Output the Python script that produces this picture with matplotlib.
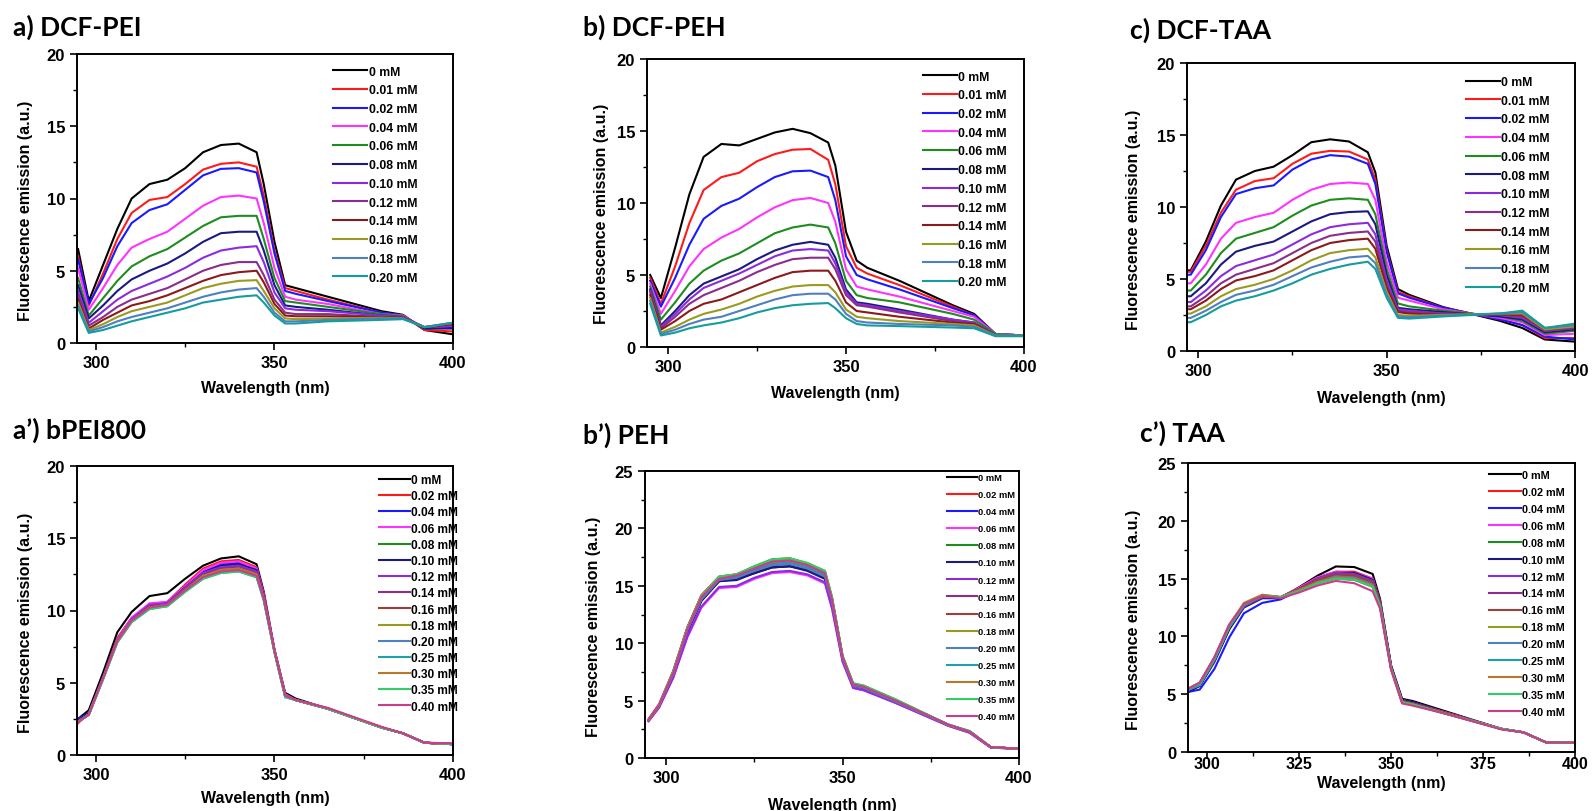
import matplotlib.pyplot as plt
from matplotlib.ticker import MultipleLocator

plt.rcParams['font.family'] = ['Liberation Sans', 'DejaVu Sans']
plt.rcParams['font.weight'] = 'bold'
plt.rcParams['axes.labelweight'] = 'bold'

# wavelength grid (nm) shared by every curve
wl = [295, 298, 302, 306, 310, 315, 320, 325, 330, 335, 340,
      345, 347, 350, 353, 356, 365, 380, 386, 392, 400]

conc_dcf = ['0 mM', '0.01 mM', '0.02 mM', '0.04 mM', '0.06 mM', '0.08 mM',
            '0.10 mM', '0.12 mM', '0.14 mM', '0.16 mM', '0.18 mM', '0.20 mM']
conc_free = ['0 mM', '0.02 mM', '0.04 mM', '0.06 mM', '0.08 mM', '0.10 mM',
             '0.12 mM', '0.14 mM', '0.16 mM', '0.18 mM', '0.20 mM', '0.25 mM',
             '0.30 mM', '0.35 mM', '0.40 mM']

colors_dcf = ['#000000', '#ff1a1a', '#1a1aff', '#ff33ff', '#1e8c1e', '#1a1a80',
              '#8a2be2', '#8b2d8b', '#8b1a1a', '#9a9a20', '#4f7fbf', '#169c9c']
colors_free = ['#000000', '#ff1a1a', '#1a1aff', '#ff33ff', '#1e8c1e', '#1a1a80',
               '#8a2be2', '#8b2d8b', '#a03c3c', '#9a9a20', '#4f80c0', '#20a0a8',
               '#b8782a', '#33cc66', '#cc3c8c']

# a) DCF-PEI
dcf_pei = [
    [6.5, 2.9, 5.4, 7.9, 10.0, 11.0, 11.3, 12.1, 13.2, 13.7, 13.8, 13.2, 11.0, 7.0, 4.0, 3.8, 3.2, 2.2, 1.95, 0.9, 0.6],
    [6.0, 2.6, 4.8, 7.2, 9.0, 9.9, 10.1, 11.0, 12.0, 12.4, 12.5, 12.2, 10.2, 6.4, 3.8, 3.6, 3.0, 2.1, 1.9, 0.9, 0.8],
    [5.8, 2.7, 4.5, 6.7, 8.3, 9.2, 9.6, 10.6, 11.6, 12.05, 12.1, 11.8, 9.8, 6.2, 3.6, 3.4, 2.9, 2.1, 1.9, 1.0, 1.1],
    [5.2, 2.3, 3.8, 5.4, 6.6, 7.2, 7.7, 8.6, 9.5, 10.1, 10.2, 10.0, 8.3, 5.2, 3.2, 3.0, 2.7, 2.0, 1.9, 1.0, 1.2],
    [4.5, 1.9, 3.1, 4.3, 5.3, 6.0, 6.5, 7.3, 8.1, 8.7, 8.8, 8.8, 7.2, 4.5, 2.9, 2.8, 2.5, 2.0, 1.85, 1.0, 1.3],
    [4.0, 1.7, 2.6, 3.6, 4.4, 5.0, 5.5, 6.2, 7.0, 7.6, 7.7, 7.7, 6.4, 4.0, 2.6, 2.5, 2.3, 1.9, 1.8, 1.0, 1.0],
    [3.6, 1.4, 2.2, 3.0, 3.6, 4.1, 4.6, 5.2, 5.9, 6.4, 6.6, 6.7, 5.6, 3.5, 2.4, 2.3, 2.2, 1.9, 1.8, 1.1, 1.2],
    [3.3, 1.2, 1.8, 2.5, 3.0, 3.4, 3.8, 4.4, 5.0, 5.4, 5.6, 5.6, 4.7, 3.0, 2.1, 2.0, 2.0, 1.8, 1.75, 1.1, 1.3],
    [3.0, 1.0, 1.6, 2.1, 2.6, 2.9, 3.3, 3.8, 4.3, 4.7, 4.9, 5.0, 4.2, 2.7, 1.9, 1.85, 1.85, 1.8, 1.75, 1.1, 1.3],
    [2.8, 0.9, 1.3, 1.8, 2.2, 2.5, 2.8, 3.3, 3.8, 4.1, 4.3, 4.35, 3.6, 2.4, 1.7, 1.65, 1.7, 1.75, 1.7, 1.1, 1.4],
    [2.6, 0.8, 1.1, 1.5, 1.8, 2.1, 2.4, 2.8, 3.2, 3.5, 3.7, 3.8, 3.2, 2.1, 1.5, 1.5, 1.6, 1.7, 1.7, 1.1, 1.4],
    [2.4, 0.7, 0.9, 1.2, 1.5, 1.8, 2.1, 2.4, 2.8, 3.0, 3.2, 3.3, 2.8, 1.9, 1.35, 1.35, 1.5, 1.6, 1.65, 1.1, 1.4],
]

# b) DCF-PEH
dcf_peh = [
    [5.0, 3.4, 6.9, 10.6, 13.2, 14.1, 14.0, 14.45, 14.9, 15.15, 14.85, 14.2, 12.6, 8.0, 6.0, 5.5, 4.6, 2.9, 2.3, 0.9, 0.8],
    [4.8, 3.0, 5.6, 8.6, 10.9, 11.8, 12.1, 12.9, 13.4, 13.7, 13.75, 13.0, 11.3, 7.0, 5.5, 5.1, 4.3, 2.8, 2.2, 0.9, 0.8],
    [4.6, 2.8, 4.8, 7.1, 8.9, 9.8, 10.3, 11.1, 11.8, 12.2, 12.25, 11.8, 10.2, 6.3, 5.0, 4.7, 4.0, 2.7, 2.2, 0.9, 0.8],
    [4.4, 2.3, 3.9, 5.6, 6.8, 7.6, 8.2, 9.0, 9.7, 10.2, 10.35, 10.0, 8.7, 5.4, 4.2, 4.0, 3.5, 2.5, 2.1, 0.9, 0.8],
    [4.2, 1.9, 3.1, 4.4, 5.3, 6.0, 6.5, 7.2, 7.9, 8.3, 8.5, 8.3, 7.2, 4.6, 3.6, 3.4, 3.1, 2.3, 1.9, 0.9, 0.8],
    [4.0, 1.5, 2.5, 3.6, 4.4, 4.9, 5.4, 6.1, 6.7, 7.1, 7.3, 7.1, 6.2, 4.0, 3.1, 3.0, 2.6, 1.9, 1.7, 0.8, 0.8],
    [3.9, 1.4, 2.3, 3.3, 4.1, 4.6, 5.1, 5.7, 6.3, 6.7, 6.8, 6.7, 5.8, 3.8, 3.0, 2.9, 2.5, 1.9, 1.7, 0.8, 0.8],
    [3.8, 1.3, 2.1, 3.0, 3.6, 4.1, 4.6, 5.2, 5.7, 6.1, 6.2, 6.2, 5.4, 3.6, 2.9, 2.8, 2.4, 1.8, 1.6, 0.8, 0.8],
    [3.6, 1.2, 1.8, 2.5, 3.0, 3.3, 3.8, 4.3, 4.8, 5.2, 5.3, 5.3, 4.6, 3.1, 2.5, 2.4, 2.1, 1.7, 1.6, 0.8, 0.8],
    [3.4, 1.0, 1.4, 1.9, 2.3, 2.6, 3.0, 3.5, 3.9, 4.2, 4.3, 4.3, 3.8, 2.6, 2.1, 2.0, 1.8, 1.6, 1.5, 0.8, 0.8],
    [3.2, 0.9, 1.2, 1.6, 1.9, 2.1, 2.5, 2.9, 3.3, 3.6, 3.7, 3.7, 3.3, 2.3, 1.8, 1.7, 1.6, 1.5, 1.4, 0.8, 0.8],
    [3.0, 0.8, 1.0, 1.3, 1.5, 1.7, 2.0, 2.4, 2.7, 2.9, 3.0, 3.05, 2.7, 2.0, 1.6, 1.5, 1.45, 1.35, 1.3, 0.75, 0.75],
]

# c) DCF-TAA
dcf_taa = [
    [5.6, 5.6, 7.6, 10.1, 11.9, 12.5, 12.8, 13.6, 14.5, 14.7, 14.55, 13.8, 12.4, 7.3, 4.3, 3.9, 3.05, 2.1, 1.6, 0.8, 0.65],
    [5.5, 5.5, 7.3, 9.6, 11.2, 11.8, 12.0, 13.0, 13.7, 13.9, 13.85, 13.3, 11.9, 7.0, 4.1, 3.8, 3.0, 2.2, 1.8, 0.9, 0.9],
    [5.3, 5.3, 7.0, 9.3, 10.9, 11.3, 11.5, 12.6, 13.3, 13.6, 13.5, 13.0, 11.6, 6.9, 4.0, 3.7, 3.0, 2.2, 1.8, 1.0, 0.8],
    [4.7, 4.7, 6.0, 7.8, 8.9, 9.3, 9.6, 10.5, 11.2, 11.6, 11.7, 11.6, 10.5, 6.2, 3.7, 3.5, 2.9, 2.3, 2.0, 1.1, 1.2],
    [4.2, 4.2, 5.3, 6.8, 7.8, 8.2, 8.6, 9.4, 10.1, 10.5, 10.6, 10.5, 9.5, 5.7, 3.3, 3.1, 2.8, 2.4, 2.1, 1.2, 1.4],
    [3.8, 3.8, 4.7, 6.0, 6.9, 7.3, 7.6, 8.3, 9.0, 9.5, 9.65, 9.7, 8.8, 5.3, 3.0, 2.9, 2.7, 2.4, 2.2, 1.3, 1.5],
    [3.4, 3.4, 4.2, 5.2, 5.9, 6.3, 6.7, 7.4, 8.1, 8.6, 8.8, 8.9, 8.1, 4.9, 2.9, 2.8, 2.6, 2.5, 2.3, 1.4, 1.6],
    [3.1, 3.1, 3.8, 4.7, 5.3, 5.7, 6.1, 6.8, 7.5, 8.0, 8.2, 8.3, 7.6, 4.6, 2.8, 2.7, 2.6, 2.5, 2.4, 1.4, 1.6],
    [2.9, 2.9, 3.5, 4.3, 4.9, 5.2, 5.6, 6.3, 7.0, 7.5, 7.7, 7.8, 7.1, 4.4, 2.7, 2.6, 2.5, 2.55, 2.5, 1.5, 1.7],
    [2.6, 2.6, 3.1, 3.8, 4.3, 4.6, 5.0, 5.6, 6.3, 6.8, 7.0, 7.1, 6.5, 4.1, 2.5, 2.45, 2.5, 2.6, 2.6, 1.5, 1.7],
    [2.3, 2.3, 2.8, 3.4, 3.9, 4.2, 4.6, 5.2, 5.8, 6.2, 6.5, 6.6, 6.1, 3.9, 2.4, 2.35, 2.45, 2.6, 2.7, 1.6, 1.8],
    [2.0, 2.0, 2.5, 3.1, 3.5, 3.8, 4.2, 4.7, 5.3, 5.7, 6.0, 6.2, 5.7, 3.7, 2.3, 2.25, 2.4, 2.6, 2.8, 1.6, 1.9],
]

# a') bPEI800
bpei = [
    [2.5, 3.1, 5.7, 8.5, 9.9, 11.0, 11.2, 12.2, 13.1, 13.6, 13.75, 13.2, 11.3, 7.3, 4.3, 3.9, 3.2, 1.9, 1.5, 0.85, 0.75],
    [2.2, 2.9, 5.4, 8.1, 9.5, 10.4, 10.6, 11.8, 12.9, 13.4, 13.5, 13.0, 11.2, 7.2, 4.2, 3.8, 3.2, 1.9, 1.5, 0.85, 0.75],
    [2.5, 2.9, 5.4, 8.0, 9.4, 10.3, 10.5, 11.7, 12.7, 13.2, 13.3, 12.9, 11.1, 7.2, 4.2, 3.8, 3.2, 1.9, 1.5, 0.85, 0.75],
    [2.3, 2.8, 5.3, 8.0, 9.5, 10.5, 10.6, 11.7, 12.8, 13.3, 13.4, 12.9, 11.1, 7.3, 4.2, 3.8, 3.25, 1.9, 1.5, 0.85, 0.8],
    [2.3, 2.8, 5.3, 7.9, 9.3, 10.2, 10.4, 11.5, 12.5, 12.9, 13.0, 12.6, 10.9, 7.2, 4.1, 3.8, 3.2, 1.9, 1.5, 0.85, 0.75],
    [2.4, 2.9, 5.3, 7.9, 9.3, 10.3, 10.5, 11.6, 12.6, 13.1, 13.2, 12.8, 11.0, 7.2, 4.1, 3.8, 3.2, 1.9, 1.5, 0.85, 0.75],
    [2.3, 2.8, 5.3, 7.9, 9.4, 10.4, 10.5, 11.6, 12.6, 13.0, 13.1, 12.7, 11.0, 7.2, 4.1, 3.8, 3.2, 1.9, 1.5, 0.85, 0.75],
    [2.3, 2.8, 5.3, 7.9, 9.3, 10.3, 10.4, 11.5, 12.5, 12.9, 13.0, 12.6, 10.9, 7.2, 4.1, 3.8, 3.2, 1.9, 1.5, 0.85, 0.75],
    [2.3, 2.8, 5.3, 7.9, 9.3, 10.3, 10.4, 11.5, 12.4, 12.8, 12.9, 12.5, 10.8, 7.2, 4.1, 3.8, 3.2, 1.9, 1.5, 0.85, 0.75],
    [2.3, 2.8, 5.3, 7.9, 9.3, 10.2, 10.4, 11.4, 12.4, 12.8, 12.9, 12.5, 10.8, 7.2, 4.1, 3.8, 3.2, 1.9, 1.5, 0.85, 0.75],
    [2.3, 2.8, 5.3, 7.9, 9.3, 10.2, 10.4, 11.4, 12.3, 12.7, 12.8, 12.4, 10.8, 7.2, 4.1, 3.8, 3.2, 1.9, 1.5, 0.85, 0.75],
    [2.3, 2.8, 5.3, 7.8, 9.2, 10.1, 10.3, 11.3, 12.2, 12.6, 12.7, 12.3, 10.7, 7.1, 4.0, 3.8, 3.2, 1.9, 1.5, 0.85, 0.75],
    [2.3, 2.8, 5.3, 7.8, 9.2, 10.2, 10.3, 11.4, 12.3, 12.8, 12.9, 12.5, 10.8, 7.2, 4.1, 3.8, 3.2, 1.9, 1.5, 0.85, 0.75],
    [2.3, 2.8, 5.2, 7.8, 9.2, 10.1, 10.3, 11.3, 12.2, 12.6, 12.7, 12.3, 10.7, 7.1, 4.0, 3.8, 3.2, 1.9, 1.5, 0.85, 0.75],
    [2.3, 2.8, 5.3, 7.9, 9.3, 10.2, 10.4, 11.4, 12.3, 12.7, 12.8, 12.4, 10.8, 7.2, 4.1, 3.8, 3.25, 1.95, 1.5, 0.85, 0.8],
]

# b') PEH
peh = [
    [3.3, 4.6, 7.3, 11.0, 13.7, 15.4, 15.6, 16.1, 16.6, 16.7, 16.4, 15.7, 13.5, 8.6, 6.3, 6.1, 4.9, 2.85, 2.25, 0.95, 0.8],
    [3.4, 4.7, 7.6, 11.4, 14.2, 15.8, 16.0, 16.6, 17.1, 17.2, 16.8, 16.1, 13.9, 8.8, 6.4, 6.2, 5.0, 2.9, 2.3, 0.95, 0.8],
    [3.3, 4.6, 7.3, 11.1, 13.8, 15.5, 15.7, 16.3, 16.8, 16.9, 16.5, 15.8, 13.6, 8.7, 6.3, 6.1, 4.9, 2.85, 2.25, 0.95, 0.8],
    [3.2, 4.4, 7.0, 10.5, 13.1, 14.8, 14.9, 15.6, 16.1, 16.2, 15.9, 15.2, 13.0, 8.4, 6.1, 5.9, 4.8, 2.8, 2.2, 0.9, 0.8],
    [3.3, 4.6, 7.5, 11.3, 14.1, 15.7, 16.0, 16.7, 17.3, 17.4, 16.95, 16.3, 14.0, 8.9, 6.5, 6.3, 5.1, 2.9, 2.35, 0.95, 0.8],
    [3.3, 4.6, 7.3, 11.0, 13.7, 15.4, 15.5, 16.1, 16.6, 16.7, 16.3, 15.6, 13.5, 8.6, 6.3, 6.1, 4.9, 2.85, 2.25, 0.95, 0.8],
    [3.2, 4.4, 7.0, 10.6, 13.2, 14.9, 15.0, 15.7, 16.2, 16.3, 16.0, 15.3, 13.1, 8.4, 6.1, 5.9, 4.8, 2.8, 2.2, 0.9, 0.8],
    [3.3, 4.6, 7.5, 11.3, 14.1, 15.7, 15.9, 16.5, 17.0, 17.2, 16.8, 16.1, 13.8, 8.8, 6.4, 6.2, 5.0, 2.9, 2.3, 0.95, 0.8],
    [3.3, 4.6, 7.5, 11.3, 14.1, 15.7, 15.9, 16.5, 17.0, 17.1, 16.7, 16.0, 13.8, 8.8, 6.4, 6.2, 5.0, 2.9, 2.3, 0.95, 0.8],
    [3.3, 4.6, 7.5, 11.3, 14.1, 15.8, 16.0, 16.6, 17.2, 17.3, 16.9, 16.2, 13.9, 8.8, 6.4, 6.2, 5.0, 2.9, 2.3, 0.95, 0.8],
    [3.3, 4.6, 7.3, 11.1, 13.8, 15.5, 15.7, 16.3, 16.8, 16.9, 16.5, 15.8, 13.6, 8.7, 6.3, 6.1, 4.9, 2.85, 2.25, 0.95, 0.8],
    [3.3, 4.6, 7.5, 11.3, 14.0, 15.6, 15.9, 16.5, 17.0, 17.1, 16.7, 16.0, 13.8, 8.7, 6.4, 6.2, 5.0, 2.9, 2.3, 0.95, 0.8],
    [3.3, 4.6, 7.5, 11.3, 14.1, 15.7, 16.0, 16.6, 17.1, 17.2, 16.8, 16.1, 13.9, 8.8, 6.4, 6.2, 5.0, 2.9, 2.3, 0.95, 0.8],
    [3.3, 4.6, 7.5, 11.3, 14.1, 15.8, 16.0, 16.7, 17.3, 17.4, 17.0, 16.3, 14.0, 8.9, 6.5, 6.3, 5.1, 2.9, 2.35, 0.95, 0.8],
    [3.3, 4.6, 7.4, 11.2, 14.0, 15.6, 15.9, 16.5, 17.1, 17.2, 16.8, 16.1, 13.8, 8.8, 6.4, 6.2, 5.0, 2.9, 2.3, 0.95, 0.8],
]

# c') TAA
taa = [
    [5.2, 5.75, 7.9, 10.65, 12.6, 13.55, 13.35, 14.25, 15.25, 16.05, 16.0, 15.4, 13.25, 7.5, 4.6, 4.4, 3.5, 2.0, 1.7, 0.85, 0.8],
    [5.5, 6.0, 8.2, 11.0, 12.8, 13.5, 13.4, 14.2, 15.1, 15.6, 15.6, 15.0, 13.1, 7.4, 4.5, 4.3, 3.4, 2.0, 1.7, 0.85, 0.8],
    [5.2, 5.4, 7.2, 9.9, 12.0, 12.9, 13.2, 14.0, 14.9, 15.4, 15.4, 14.9, 13.0, 7.4, 4.5, 4.3, 3.4, 2.0, 1.7, 0.85, 0.8],
    [5.4, 5.9, 8.1, 10.9, 12.7, 13.5, 13.4, 14.2, 15.1, 15.6, 15.5, 15.0, 13.0, 7.3, 4.4, 4.2, 3.4, 2.0, 1.7, 0.85, 0.8],
    [5.4, 5.8, 8.0, 10.8, 12.6, 13.4, 13.4, 14.1, 14.9, 15.4, 15.3, 14.7, 12.9, 7.3, 4.4, 4.2, 3.4, 2.0, 1.7, 0.85, 0.8],
    [5.3, 5.7, 7.8, 10.6, 12.5, 13.3, 13.3, 14.1, 15.0, 15.5, 15.5, 14.9, 13.0, 7.4, 4.5, 4.3, 3.4, 2.0, 1.7, 0.85, 0.8],
    [5.4, 5.8, 8.0, 10.8, 12.6, 13.4, 13.4, 14.1, 15.0, 15.5, 15.4, 14.8, 12.9, 7.3, 4.4, 4.2, 3.4, 2.0, 1.7, 0.85, 0.8],
    [5.4, 5.8, 8.0, 10.8, 12.6, 13.4, 13.4, 14.0, 14.8, 15.3, 15.2, 14.6, 12.8, 7.3, 4.4, 4.2, 3.4, 2.0, 1.7, 0.85, 0.8],
    [5.4, 5.8, 8.0, 10.8, 12.7, 13.5, 13.4, 14.1, 14.9, 15.4, 15.3, 14.7, 12.9, 7.3, 4.4, 4.2, 3.4, 2.0, 1.7, 0.85, 0.8],
    [5.5, 5.9, 8.1, 10.9, 12.8, 13.6, 13.4, 14.0, 14.6, 15.0, 14.9, 14.3, 12.6, 7.2, 4.3, 4.1, 3.3, 2.0, 1.7, 0.85, 0.8],
    [5.4, 5.8, 8.0, 10.8, 12.7, 13.5, 13.4, 14.0, 14.7, 15.2, 15.1, 14.5, 12.7, 7.2, 4.3, 4.1, 3.3, 2.0, 1.7, 0.85, 0.8],
    [5.4, 5.8, 8.0, 10.8, 12.7, 13.5, 13.4, 13.9, 14.6, 15.0, 14.9, 14.3, 12.6, 7.2, 4.3, 4.1, 3.3, 2.0, 1.7, 0.85, 0.8],
    [5.5, 6.0, 8.2, 11.0, 12.9, 13.6, 13.4, 14.0, 14.7, 15.1, 15.0, 14.4, 12.6, 7.2, 4.3, 4.1, 3.3, 2.0, 1.7, 0.85, 0.8],
    [5.5, 5.9, 8.1, 10.9, 12.8, 13.5, 13.4, 13.9, 14.6, 15.0, 14.9, 14.3, 12.6, 7.2, 4.3, 4.1, 3.3, 2.0, 1.7, 0.85, 0.8],
    [5.5, 6.0, 8.2, 11.0, 12.8, 13.5, 13.3, 13.8, 14.4, 14.8, 14.6, 13.9, 12.4, 7.1, 4.2, 4.0, 3.3, 1.95, 1.7, 0.85, 0.8],
]

W, H = 1592, 812
fig = plt.figure(figsize=(W / 100, H / 100), dpi=100)


def px_axes(left, top, right, bottom):
    return fig.add_axes([left / W, 1 - bottom / H, (right - left) / W, (bottom - top) / H])


def draw(ax, data, labels, colors, xlim, ymax, xmajor, leg):
    for ys, lab, col in zip(data, labels, colors):
        ax.plot(wl, ys, color=col, lw=1.5, label=lab, solid_joinstyle='round')
    ax.set_xlim(*xlim)
    ax.set_ylim(0, ymax)
    ax.xaxis.set_major_locator(MultipleLocator(xmajor))
    ax.xaxis.set_minor_locator(MultipleLocator(xmajor / 2))
    ax.yaxis.set_major_locator(MultipleLocator(5))
    ax.yaxis.set_minor_locator(MultipleLocator(2.5))
    ax.tick_params(which='major', direction='out', length=5, width=1.2, labelsize=12)
    ax.tick_params(which='minor', direction='out', length=3, width=1.0)
    for s in ax.spines.values():
        s.set_linewidth(1.4)
    ax.set_xlabel('Wavelength (nm)', fontsize=11.5)
    ax.set_ylabel('Fluorescence emission (a.u.)', fontsize=11.5)
    ax.legend(loc='upper left', bbox_to_anchor=leg['anchor'], frameon=False,
              fontsize=leg['size'], labelspacing=leg['spacing'],
              handlelength=leg['hl'], handletextpad=0.1, borderpad=0,
              borderaxespad=0)


def title(x, y, s):
    fig.text(x / W, 1 - y / H, s, fontsize=19, fontweight='bold',
             family=['Lato', 'DejaVu Sans'], va='center', ha='left')


ax = px_axes(77, 55, 453, 344)
draw(ax, dcf_pei, conc_dcf, colors_dcf, (294.7, 400), 20, 50,
     dict(anchor=(0.681, 0.96), size=8.8, spacing=0.55, hl=2.8))
ax.xaxis.set_label_coords(0.5, -0.128)
ax.yaxis.set_label_coords(-0.117, 0.46)
title(13, 27, 'a) DCF-PEI')

ax = px_axes(647, 60, 1024, 348)
draw(ax, dcf_peh, conc_dcf, colors_dcf, (294.1, 400), 20, 50,
     dict(anchor=(0.732, 0.96), size=8.8, spacing=0.55, hl=2.8))
ax.xaxis.set_label_coords(0.5, -0.132)
ax.yaxis.set_label_coords(-0.101, 0.465)
title(583, 27, 'b) DCF-PEH')

ax = px_axes(1187, 64, 1575, 352)
draw(ax, dcf_taa, conc_dcf, colors_dcf, (297, 400), 20, 50,
     dict(anchor=(0.719, 0.955), size=8.8, spacing=0.55, hl=2.8))
ax.xaxis.set_label_coords(0.5, -0.137)
ax.yaxis.set_label_coords(-0.118, 0.458)
title(1130, 30, 'c) DCF-TAA')

ax = px_axes(77, 467, 453, 756)
draw(ax, bpei, conc_free, colors_free, (294.7, 400), 20, 50,
     dict(anchor=(0.803, 0.972), size=8.6, spacing=0.35, hl=2.6))
ax.xaxis.set_label_coords(0.5, -0.121)
ax.yaxis.set_label_coords(-0.117, 0.46)
title(13, 430, 'a\u2019) bPEI800')

ax = px_axes(645, 472, 1019, 759)
draw(ax, peh, conc_free, colors_free, (294, 400), 25, 50,
     dict(anchor=(0.807, 0.993), size=6.7, spacing=0.87, hl=3.2))
ax.xaxis.set_label_coords(0.5, -0.136)
ax.yaxis.set_label_coords(-0.118, 0.46)
title(583, 435, 'b\u2019) PEH')

ax = px_axes(1188, 464, 1575, 753)
draw(ax, taa, conc_free, colors_free, (294.8, 400), 25, 25,
     dict(anchor=(0.778, 0.976), size=7.8, spacing=0.64, hl=2.9))
ax.tick_params(axis='x', which='major', pad=-2, labelsize=11.5)
ax.xaxis.set_label_coords(0.5, -0.078)
ax.yaxis.set_label_coords(-0.121, 0.46)
title(1140, 433, 'c\u2019) TAA')

fig.savefig('out.png', dpi=100, facecolor='white')
